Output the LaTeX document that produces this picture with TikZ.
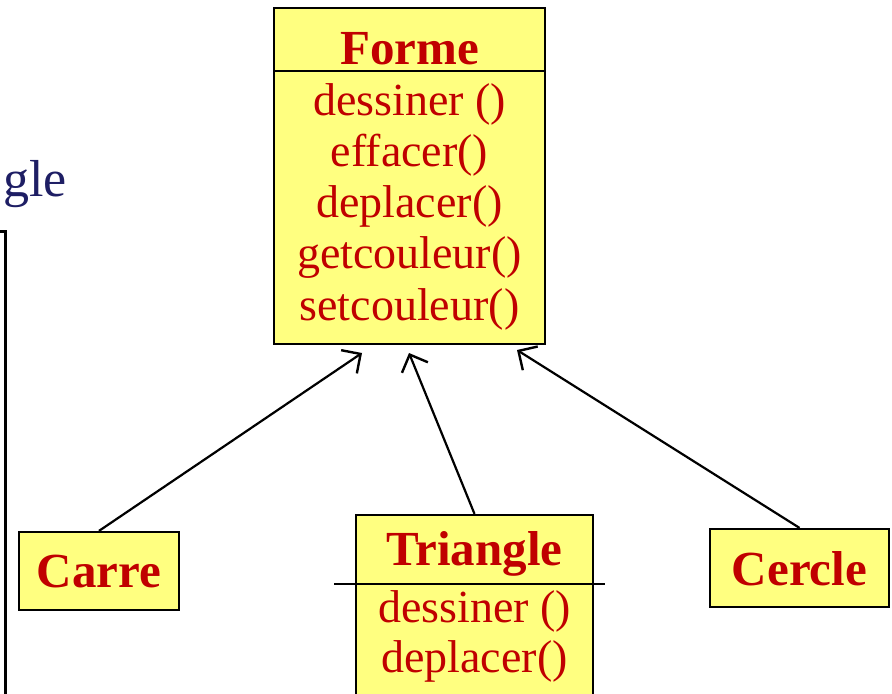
\documentclass[tikz,border=0pt]{standalone}
\usepackage{fontspec}
\setmainfont{Liberation Serif}
\usetikzlibrary{arrows.meta}
\definecolor{boxfill}{RGB}{255,255,128}
\definecolor{boxtext}{RGB}{192,0,0}
\definecolor{navytext}{RGB}{30,30,100}
\tikzset{
  classbox/.style={draw=black, line width=1.1pt, fill=boxfill, rectangle, inner sep=0pt},
  title/.style={text=boxtext, font=\fontsize{24.5}{28}\selectfont\bfseries, inner sep=0pt},
  method/.style={text=boxtext, font=\fontsize{23}{25.5}\selectfont, inner sep=0pt},
  inherit/.style={draw=black, line width=1.1pt, -{Straight Barb[length=7pt,width=14pt,line width=1.2pt]}},
  divider/.style={draw=black, line width=1.2pt}
}
\begin{document}
\begin{tikzpicture}[x=0.5pt, y=-0.5pt]
  \useasboundingbox (0,0) rectangle (892,694);
  \clip (0,0) rectangle (892,694);

  % partly visible neighbouring box and label
  \node[anchor=base east, text=navytext, font=\fontsize{26}{30}\selectfont, inner sep=0pt] (rectlabel) at (67,197) {gle};
  \draw[line width=1.5pt] (-4,232) -- (5,232) -- (5,700);

  % superclass
  \node[classbox, minimum width=135.5pt, minimum height=168pt] (forme) at (409.5,176) {};
  \draw[divider] (274,71) -- (545,71);
  \node[title] (formetitle) at (409.5,49) {Forme};
  \node[method] (m1) at (409.5,104) {dessiner ()};
  \node[method] (m2) at (409.5,155) {effacer()};
  \node[method] (m3) at (409.5,206) {deplacer()};
  \node[method] (m4) at (409.5,258) {getcouleur()};
  \node[method] (m5) at (409.5,309) {setcouleur()};

  % subclasses
  \node[classbox, minimum width=80pt, minimum height=39pt] (carre) at (99,571) {};
  \node[title] (carretitle) at (99,572) {Carre};

  \node[classbox, minimum width=118.5pt, minimum height=102.5pt] (triangle) at (474.5,617.5) {};
  \draw[divider] (334,584) -- (605,584);
  \node[title] (triangletitle) at (474.5,554) {Triangle};
  \node[method] (t1) at (474.5,611) {dessiner ()};
  \node[method] (t2) at (474.5,661) {deplacer()};

  \node[classbox, minimum width=89.5pt, minimum height=39pt] (cercle) at (799.5,568) {};
  \node[title] (cercletitle) at (799.5,569) {Cercle};

  % arrow end points just below the superclass
  \coordinate (fa) at (362,353);
  \coordinate (fb) at (409,353);
  \coordinate (fc) at (517,350);

  % inheritance links
  \draw[inherit] (carre.north) -- (fa);
  \draw[inherit] (triangle.north) -- (fb);
  \draw[inherit] (cercle.north) -- (fc);
\end{tikzpicture}
\end{document}
